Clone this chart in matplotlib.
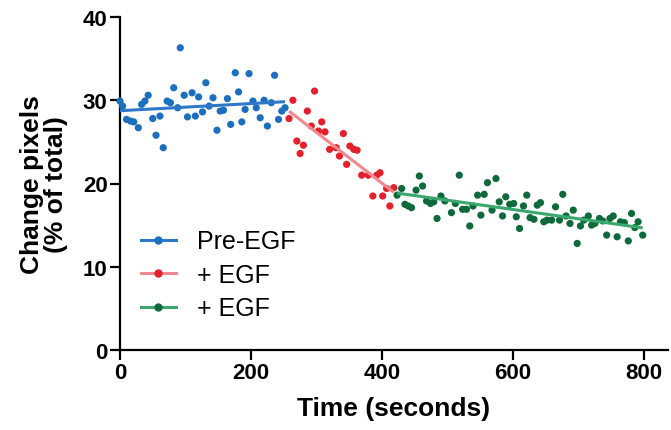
import numpy as np
import matplotlib
matplotlib.use("Agg")
import matplotlib.pyplot as plt
from matplotlib.lines import Line2D

# Time (s) and changed-pixel fraction (% of total) for each phase
pre_t = [0, 4, 10, 16, 21, 28, 33, 38, 43, 50, 55, 61, 66, 72, 77, 82, 88, 92,
         98, 103, 110, 115, 120, 126, 131, 136, 142, 148, 153, 158, 164, 169,
         176, 181, 186, 191, 197, 203, 208, 214, 220, 225, 231, 236, 242, 247, 252]
pre_y = [29.9, 29.3, 27.7, 27.5, 27.4, 26.7, 29.5, 29.9, 30.6, 27.8, 25.8, 28.1,
         24.3, 29.9, 29.7, 31.5, 29.1, 36.3, 30.6, 28.0, 30.9, 28.1, 30.4, 28.6,
         32.1, 29.3, 30.3, 26.4, 28.7, 28.8, 30.2, 27.1, 33.3, 31.0, 27.4, 28.9,
         33.2, 29.9, 29.1, 27.9, 30.0, 26.9, 29.7, 33.0, 27.7, 28.7, 29.1]

egf1_t = [258, 264, 270, 275, 280, 286, 292, 297, 303, 308, 313, 320, 330, 335,
          341, 346, 351, 357, 362, 369, 379, 386, 392, 397, 401, 407, 412, 418]
egf1_y = [27.8, 30.0, 25.1, 23.6, 24.6, 28.7, 26.9, 31.1, 26.3, 27.4, 26.2, 24.1,
          24.3, 23.3, 26.0, 22.3, 24.5, 24.1, 24.0, 21.0, 21.0, 18.5, 21.0, 21.3,
          18.5, 19.4, 17.3, 19.5]

egf2_t = [423, 430, 435, 440, 445, 452, 457, 462, 468, 474, 479, 484, 490, 496,
          506, 512, 518, 523, 529, 534, 539, 546, 551, 556, 561, 568, 574, 579,
          584, 589, 595, 601, 605, 610, 616, 621, 626, 632, 637, 642, 647, 652,
          659, 665, 671, 676, 681, 687, 692, 698, 703, 708, 715, 720, 725, 732,
          737, 743, 748, 753, 759, 764, 770, 776, 781, 786, 791, 798]
egf2_y = [18.6, 19.4, 17.5, 17.3, 17.1, 19.2, 20.9, 19.7, 17.9, 17.6, 17.8, 15.8,
          18.5, 17.9, 16.5, 17.6, 21.0, 16.9, 16.9, 14.9, 17.3, 18.6, 16.2, 18.7,
          20.1, 16.8, 20.6, 17.8, 16.1, 18.4, 17.5, 17.6, 16.0, 14.6, 17.3, 18.6,
          15.9, 15.7, 17.4, 17.7, 15.4, 15.6, 15.6, 17.2, 15.6, 18.7, 16.1, 15.2,
          16.8, 12.8, 14.9, 15.6, 16.1, 15.0, 15.2, 15.8, 15.5, 13.8, 15.8, 16.1,
          13.6, 15.4, 15.3, 13.1, 16.4, 14.7, 15.4, 13.8]

series_labels = ["Pre-EGF", "+ EGF", "+ EGF"]
x_ticks = [0, 200, 400, 600, 800]
y_ticks = [0, 10, 20, 30, 40]

dot_colors = ["#1c6fbf", "#e4202c", "#0f6a3b"]
line_colors = ["#2f77c8", "#f08890", "#3aa86c"]

plt.rcParams['font.family'] = ['Liberation Sans', 'DejaVu Sans']

fig = plt.figure(figsize=(6.71, 4.31), dpi=100)
ax = fig.add_axes([120 / 671, 80 / 431, 548 / 671, 333 / 431])

series = [(pre_t, pre_y), (egf1_t, egf1_y), (egf2_t, egf2_y)]
for (t, y), dc, lc in zip(series, dot_colors, line_colors):
    t = np.asarray(t, float)
    y = np.asarray(y, float)
    ax.scatter(t, y, s=27, color=dc, edgecolors="none", zorder=3, clip_on=False)
    slope, icpt = np.polyfit(t, y, 1)
    tt = np.array([t.min(), t.max()])
    ax.plot(tt, slope * tt + icpt, color=lc, lw=2.2, zorder=4, solid_capstyle="butt")

ax.set_xlim(0, 548 / 0.655)
ax.set_ylim(0, 40)
ax.set_xticks(x_ticks)
ax.set_yticks(y_ticks)

for side in ("top", "right"):
    ax.spines[side].set_visible(False)
for side in ("left", "bottom"):
    ax.spines[side].set_linewidth(1.6)
    ax.spines[side].set_color("black")

ax.tick_params(axis="both", which="major", length=7, width=1.6, direction="out",
               labelsize=16, pad=2, colors="black")
for lab in ax.get_xticklabels() + ax.get_yticklabels():
    lab.set_fontweight("bold")

ax.set_xlabel("Time (seconds)", fontsize=19, fontweight="bold", labelpad=9)
ax.set_ylabel("Change pixels\n(% of total)", fontsize=19, fontweight="bold",
              linespacing=1.0)
ax.yaxis.set_label_coords(-0.095, 0.5)

handles = [Line2D([0], [0], color=lc, lw=2.2, marker="o", markersize=5,
                  markerfacecolor=dc, markeredgecolor=dc)
           for dc, lc in zip(dot_colors, line_colors)]
ax.legend(handles, series_labels, loc="upper left", bbox_to_anchor=(0.038, 0.362),
          frameon=False, fontsize=18, borderpad=0, borderaxespad=0,
          handlelength=1.4, handletextpad=0.85, labelspacing=0.38, numpoints=1)

fig.savefig("out.png", dpi=100)
